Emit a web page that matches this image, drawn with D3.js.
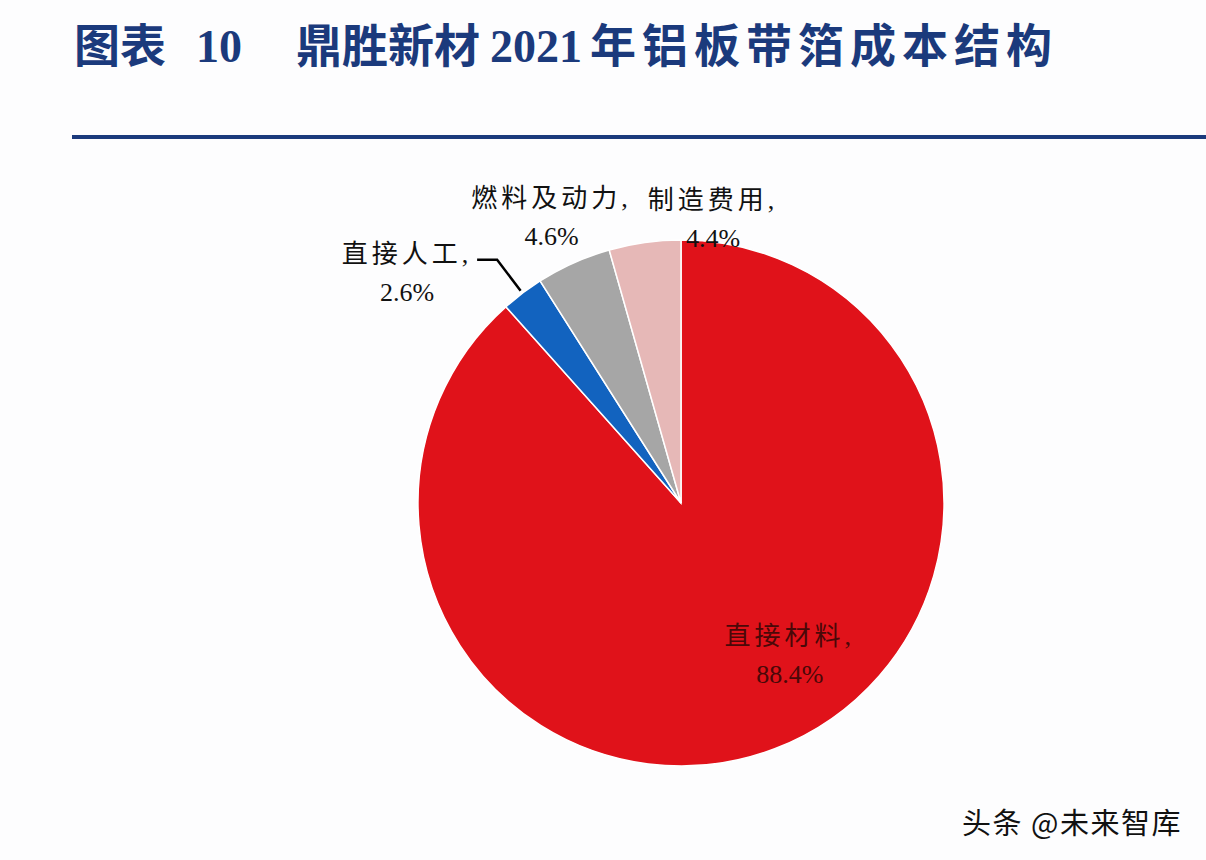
<!DOCTYPE html>
<html>
<head>
<meta charset="utf-8">
<script src="https://cdn.jsdelivr.net/npm/d3@7"></script>
<style>
  body { margin: 0; background: #fdfdfe; }
  svg { display: block; }
</style>
</head>
<body>
<div id="chart"></div>
<script>
// data
var categories = ["直接材料", "直接人工", "燃料及动力", "制造费用"]
var shares = [88.4, 2.6, 4.6, 4.4]
var colors = ["#e0121a", "#1263bf", "#a6a6a6", "#e6b8b7"]

var width = 1206, height = 860
var cx = 681, cy = 503, radius = 263

var svg = d3.select("#chart")
  .append("svg")
    .attr("width", width)
    .attr("height", height)

// title
var title = svg.append("text")
  .attr("y", 62)
  .attr("fill", "#1b3a7c")
  .style("font-family", "'Liberation Serif', 'Noto Sans CJK SC', serif")
  .style("font-weight", "bold")
  .style("font-size", "46px")
title.append("tspan").attr("x", 74).text("图表")
title.append("tspan").attr("x", 196).text("10")
title.append("tspan").attr("x", 296).text("鼎胜新材")
title.append("tspan").attr("x", 490).text("2021")
title.append("tspan").attr("x", 590).style("letter-spacing", "6px").text("年铝板带箔成本结构")

svg.append("rect")
  .attr("x", 72)
  .attr("y", 135)
  .attr("width", width - 72)
  .attr("height", 4)
  .attr("fill", "#1b3a7c")

var g = svg.append("g")
  .attr("transform", "translate(" + cx + "," + cy + ")")

var pie = d3.pie().sort(null).value(function(d) { return d })
var arcs = pie(shares)
var arc = d3.arc().innerRadius(0).outerRadius(radius)

g.selectAll("path")
  .data(arcs)
  .enter()
  .append("path")
    .attr("d", arc)
    .attr("fill", function(d, i) { return colors[i] })
    .attr("stroke", "#ffffff")
    .attr("stroke-width", 1.5)

function polar(a, r) { return [Math.sin(a) * r, -Math.cos(a) * r] }
function mid(d) { return (d.startAngle + d.endAngle) / 2 }

// label placement: radius from centre and offset
var labelLayout = [
  {r: 190, dx: 41, dy: -28, lead: false},
  {r: 330, dx: -75, dy: 31, lead: true},
  {r: 312, dx: -2, dy: -3, lead: false},
  {r: 290, dx: 72, dy: 1, lead: false}
]

var labels = g.selectAll(".lbl")
  .data(arcs)
  .enter()
  .append("text")
    .attr("class", "lbl")
    .attr("text-anchor", "middle")
    .attr("fill", function(d, i) { return i == 0 ? "#4a0808" : "#111" })
    .style("font-family", "'Liberation Serif', 'Noto Sans CJK SC', serif")
    .style("font-size", "26px")
    .attr("transform", function(d, i) {
      var p = polar(mid(d), labelLayout[i].r)
      return "translate(" + (p[0] + labelLayout[i].dx) + "," + (p[1] + labelLayout[i].dy) + ")"
    })
labels.append("tspan")
  .attr("x", 0).attr("y", -8)
  .style("letter-spacing", "4px")
  .text(function(d, i) { return categories[i] + "," })
labels.append("tspan")
  .attr("x", 0).attr("y", 30)
  .text(function(d, i) { return shares[i].toFixed(1) + "%" })

// leader line for the small slice
arcs.forEach(function(d, i) {
  if (!labelLayout[i].lead) return
  var p0 = polar(mid(d), radius + 3)
  var p1 = polar(mid(d), 305)
  g.append("polyline")
    .attr("points", [p0, p1, [p1[0] - 20, p1[1]]].map(function(p) { return p.join(",") }).join(" "))
    .attr("fill", "none")
    .attr("stroke", "#000")
    .attr("stroke-width", 2.5)
})

// watermark
svg.append("text")
  .attr("x", 962)
  .attr("y", 834)
  .attr("fill", "#111")
  .style("font-family", "'Noto Sans CJK SC', sans-serif")
  .style("font-size", "29px")
  .style("letter-spacing", "1.5px")
  .text("头条 @未来智库")
</script>
</body>
</html>
